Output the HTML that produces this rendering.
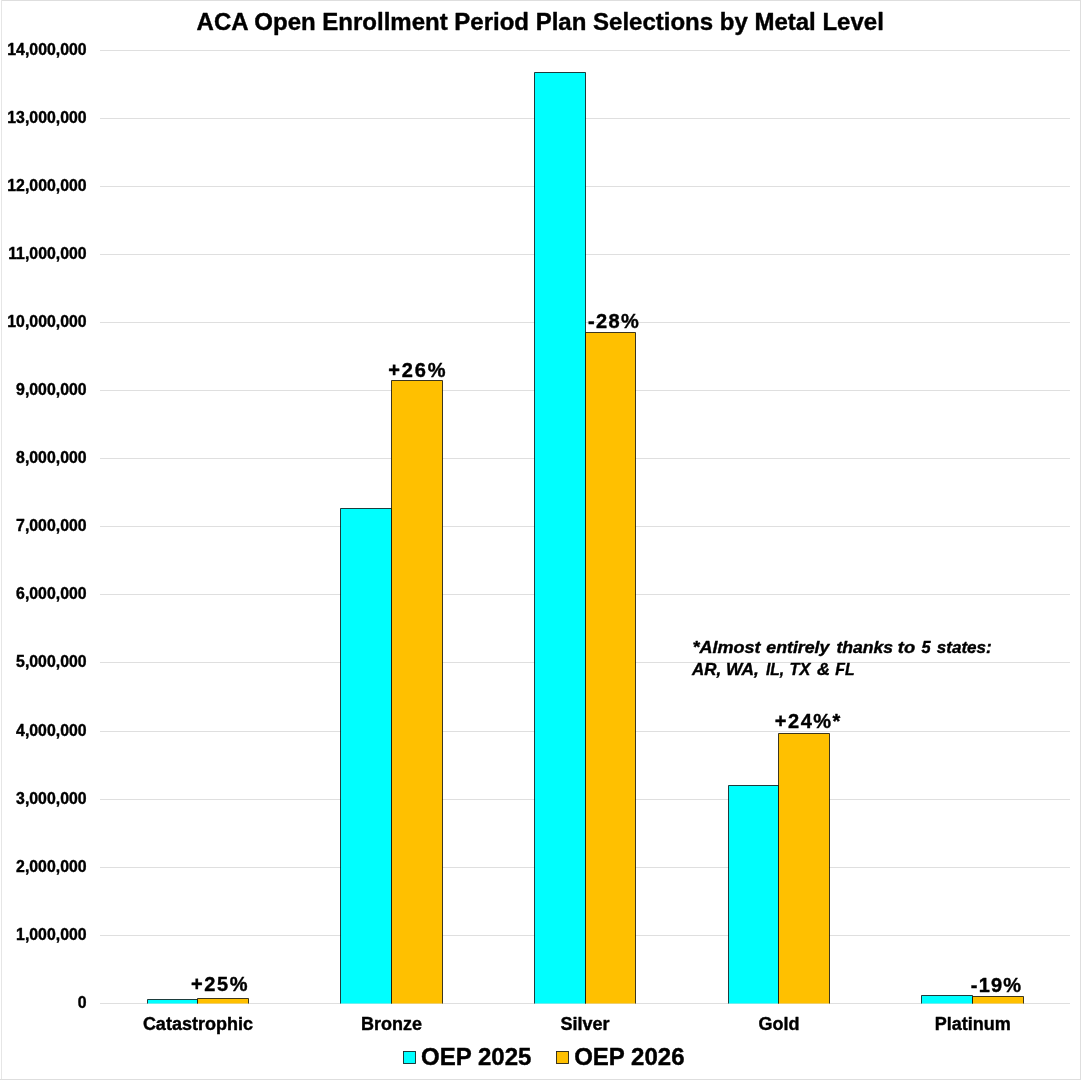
<!DOCTYPE html>
<html><head><meta charset="utf-8"><title>ACA Open Enrollment Period Plan Selections by Metal Level</title>
<style>
html,body{margin:0;padding:0;background:#fff;}
body{width:1081px;height:1080px;overflow:hidden;}
svg{display:block;}
text{font-family:"Liberation Sans",sans-serif;font-weight:bold;fill:#000;stroke:#000;stroke-width:0.4px;stroke-linejoin:round;}
.ax{font-size:15.85px;}
.cat{font-size:18px;}
.pct{font-size:20px;stroke-width:0.45px;}
.note{font-size:17px;font-style:italic;stroke-width:0.5px;}
.leg{font-size:24px;}
.title{font-size:24px;}
</style></head><body>
<svg width="1081" height="1080" viewBox="0 0 1081 1080">
<rect x="0" y="0" width="1081" height="1080" fill="#fff"/>
<g fill="#dedede"><rect x="1" y="0" width="1080" height="1"/><rect x="1" y="0" width="1" height="1080" fill="#e6e6e6"/><rect x="1080" y="0" width="1" height="1080"/><rect x="0" y="1079" width="1081" height="1"/></g>
<g fill="#dfdfdf">
<rect x="100" y="935" width="970" height="1"/>
<rect x="100" y="867" width="970" height="1"/>
<rect x="100" y="799" width="970" height="1"/>
<rect x="100" y="731" width="970" height="1"/>
<rect x="100" y="662" width="970" height="1"/>
<rect x="100" y="594" width="970" height="1"/>
<rect x="100" y="526" width="970" height="1"/>
<rect x="100" y="458" width="970" height="1"/>
<rect x="100" y="390" width="970" height="1"/>
<rect x="100" y="322" width="970" height="1"/>
<rect x="100" y="254" width="970" height="1"/>
<rect x="100" y="186" width="970" height="1"/>
<rect x="100" y="118" width="970" height="1"/>
<rect x="100" y="50" width="970" height="1"/>
</g>
<g class="ax" text-anchor="end">
<text x="86.6" y="1008">0</text>
<text x="86.6" y="940">1,000,000</text>
<text x="86.6" y="872">2,000,000</text>
<text x="86.6" y="804">3,000,000</text>
<text x="86.6" y="736">4,000,000</text>
<text x="86.6" y="667">5,000,000</text>
<text x="86.6" y="599">6,000,000</text>
<text x="86.6" y="531">7,000,000</text>
<text x="86.6" y="463">8,000,000</text>
<text x="86.6" y="395">9,000,000</text>
<text x="86.6" y="327">10,000,000</text>
<text x="86.6" y="259">11,000,000</text>
<text x="86.6" y="191">12,000,000</text>
<text x="86.6" y="123">13,000,000</text>
<text x="86.6" y="55">14,000,000</text>
</g>
<rect x="100" y="1003" width="970" height="1" fill="#dfdfdf"/>
<g stroke="rgba(0,0,0,0.85)" stroke-width="0.9">
<path d="M147.5 1003.5V999.5H197.5V1003.5" fill="#00ffff"/>
<path d="M197.5 1003.5V998.5H248.5V1003.5" fill="#ffc000"/>
<path d="M340.5 1003.5V508.5H391.5V1003.5" fill="#00ffff"/>
<path d="M391.5 1003.5V380.5H442.5V1003.5" fill="#ffc000"/>
<path d="M534.5 1003.5V72.5H585.5V1003.5" fill="#00ffff"/>
<path d="M585.5 1003.5V332.5H635.5V1003.5" fill="#ffc000"/>
<path d="M728.5 1003.5V785.5H778.5V1003.5" fill="#00ffff"/>
<path d="M778.5 1003.5V733.5H829.5V1003.5" fill="#ffc000"/>
<path d="M921.5 1003.5V995.5H972.5V1003.5" fill="#00ffff"/>
<path d="M972.5 1003.5V996.5H1023.5V1003.5" fill="#ffc000"/>
</g>
<g class="cat" text-anchor="middle">
<text x="197.9" y="1030">Catastrophic</text>
<text x="391.5" y="1030">Bronze</text>
<text x="585" y="1030">Silver</text>
<text x="779" y="1030">Gold</text>
<text x="972.8" y="1030">Platinum</text>
</g>
<g class="pct">
<text x="191.00" y="991.1" textLength="56.60" lengthAdjust="spacing">+25%</text>
<text x="388.20" y="377.3" textLength="57.40" lengthAdjust="spacing">+26%</text>
<text x="588.00" y="328.3" textLength="50.80" lengthAdjust="spacing">-28%</text>
<text x="774.80" y="727.9" textLength="65.60" lengthAdjust="spacing">+24%*</text>
<text x="970.80" y="992.3" textLength="50.30" lengthAdjust="spacing">-19%</text>
</g>
<g class="note">
<text y="653"><tspan x="692.44" textLength="68.00" lengthAdjust="spacingAndGlyphs">*Almost</tspan> <tspan x="766.31" textLength="63.07" lengthAdjust="spacingAndGlyphs">entirely</tspan> <tspan x="836.42" textLength="56.60" lengthAdjust="spacingAndGlyphs">thanks</tspan> <tspan x="897.79" textLength="17.32" lengthAdjust="spacingAndGlyphs">to</tspan> <tspan x="921.40" textLength="9.14" lengthAdjust="spacingAndGlyphs">5</tspan> <tspan x="936.76" textLength="55.04" lengthAdjust="spacingAndGlyphs">states:</tspan></text>
<text y="675"><tspan x="692.07" textLength="29.11" lengthAdjust="spacingAndGlyphs">AR,</tspan> <tspan x="726.08" textLength="32.67" lengthAdjust="spacingAndGlyphs">WA,</tspan> <tspan x="765.94" textLength="18.14" lengthAdjust="spacingAndGlyphs">IL,</tspan> <tspan x="789.53" textLength="20.76" lengthAdjust="spacingAndGlyphs">TX</tspan> <tspan x="816.95" textLength="13.03" lengthAdjust="spacingAndGlyphs">&amp;</tspan> <tspan x="835.34" textLength="19.29" lengthAdjust="spacingAndGlyphs">FL</tspan></text>
</g>
<text class="title" x="540.2" y="29.6" text-anchor="middle">ACA Open Enrollment Period Plan Selections by Metal Level</text>
<g stroke="rgba(0,0,0,0.85)" stroke-width="0.9"><rect x="403.5" y="1051.5" width="12" height="12" fill="#00ffff"/><rect x="556.5" y="1051.5" width="12" height="12" fill="#ffc000"/></g>
<g class="leg"><text x="421.1" y="1065">OEP 2025</text><text x="574.2" y="1065">OEP 2026</text></g>
</svg>
</body></html>
